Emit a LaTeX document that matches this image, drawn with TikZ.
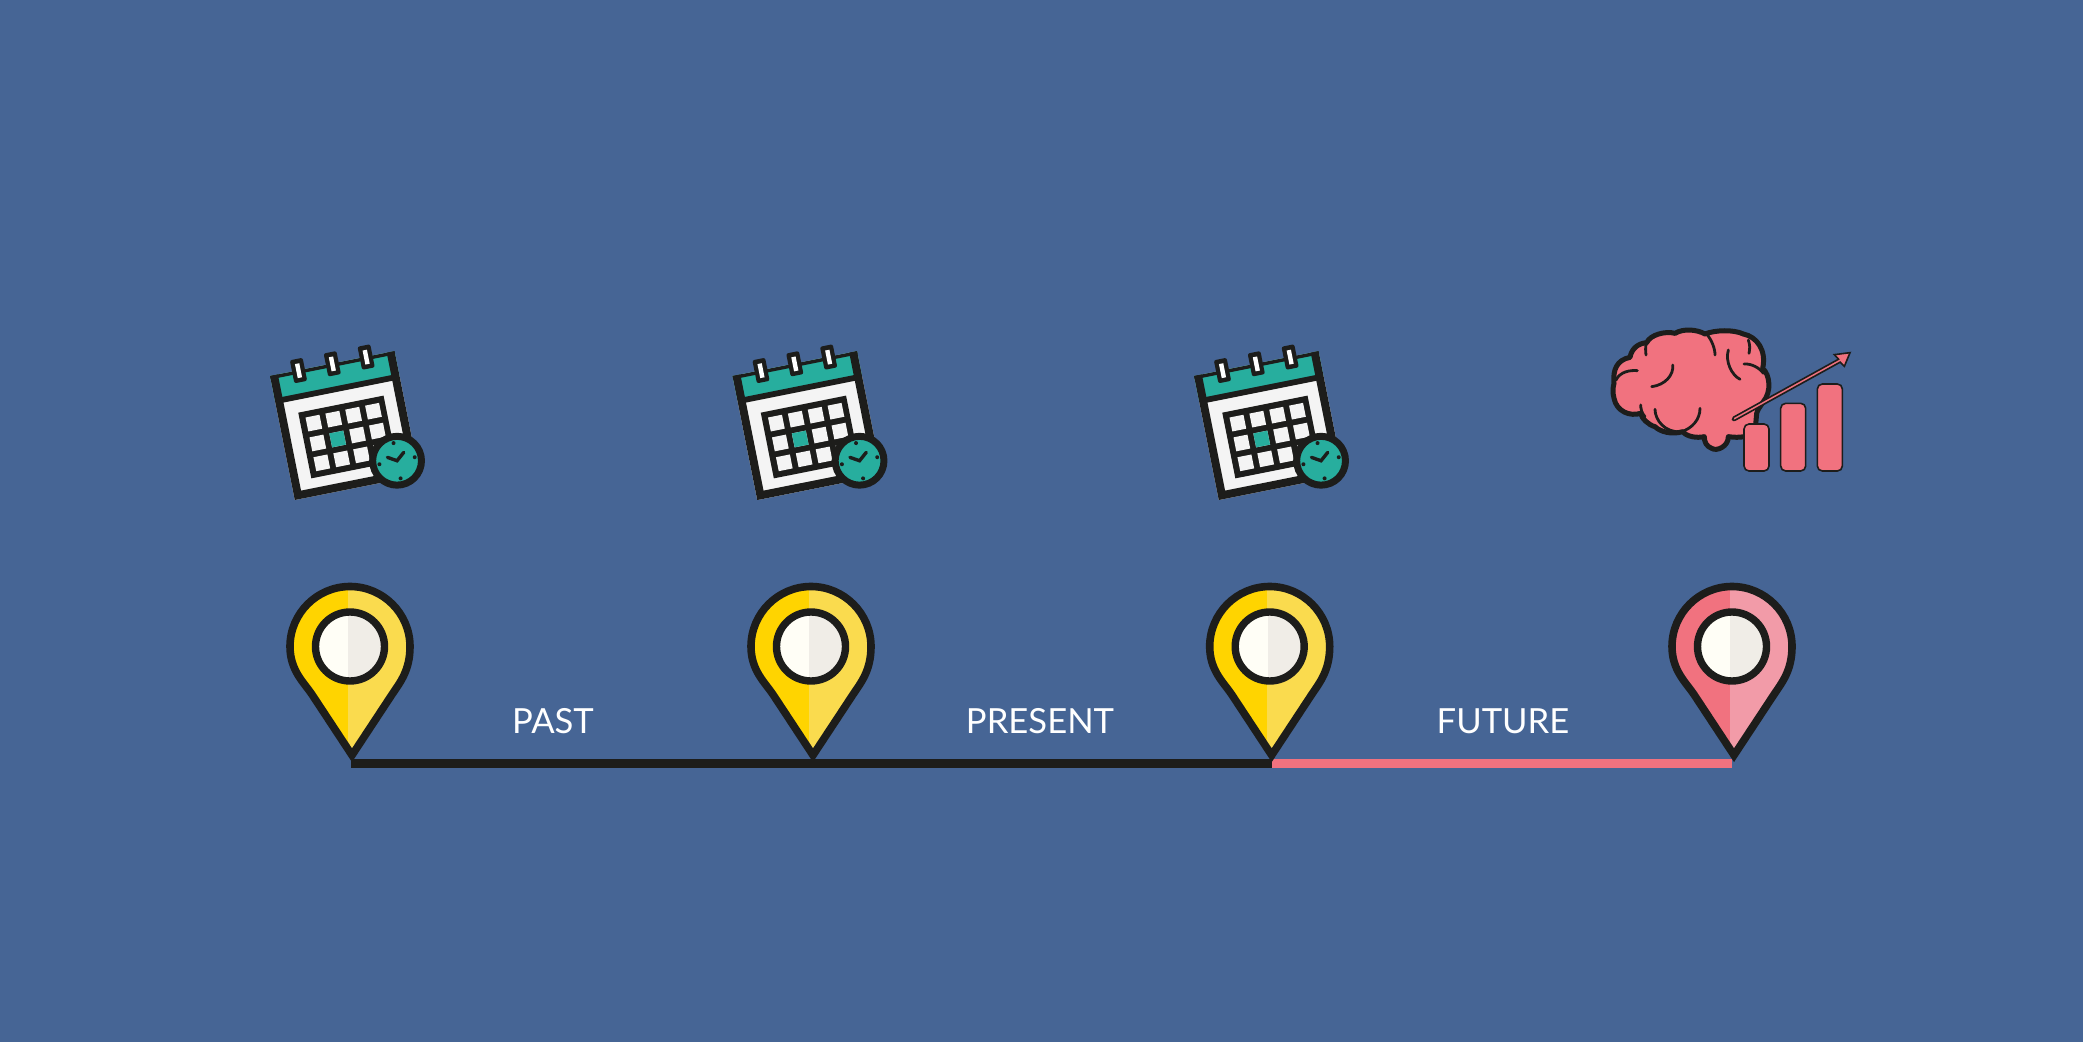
\documentclass[tikz,border=0pt]{standalone}
\usepackage{fontspec}
\setmainfont{Lato}
\definecolor{bgblue}{HTML}{466595}
\definecolor{ink}{HTML}{1D1D1B}
\definecolor{teal}{HTML}{27AE9E}
\definecolor{paper}{HTML}{F4F4F4}
\definecolor{pinkA}{HTML}{F1727F}
\definecolor{pinkB}{HTML}{F29BA8}
\definecolor{goldA}{HTML}{FFD400}
\definecolor{goldB}{HTML}{FADB4E}
\definecolor{pearlA}{HTML}{FFFEF6}
\definecolor{pearlB}{HTML}{F0EDE7}
\newcommand{\pinpath}{(2,108.7) -- (-38,48) .. controls (-46,36) and (-60,24) .. (-60,0)
  .. controls (-60,-33) and (-33,-60) .. (0,-60)
  .. controls (33,-60) and (60,-33) .. (60,0)
  .. controls (60,24) and (50,36) .. (42,48) -- cycle}
\tikzset{x=0.5pt,y=-0.5pt,
  timeline/.style={line width=4.4pt},
  label/.style={text=white,font=\fontsize{17.3}{20}\selectfont,anchor=center,inner sep=0pt}
}
% #1 centre x, #2 left colour, #3 right colour
\newcommand{\drawpin}[3]{%
  \begin{scope}[shift={(#1,646.5)}]
    \begin{scope}
      \clip \pinpath;
      \fill[#2] (-70,-70) rectangle (-2.5,115);
      \fill[#3] (-2.5,-70) rectangle (70,115);
    \end{scope}
    \draw[ink,line width=3.8pt,miter limit=10,line join=miter] \pinpath;
    \begin{scope}
      \clip (0,0) circle[radius=16pt];
      \fill[pearlA] (-35,-35) rectangle (-2,35);
      \fill[pearlB] (-2,-35) rectangle (35,35);
    \end{scope}
    \draw[ink,line width=3.7pt] (0,0) circle[radius=17.25pt];
  \end{scope}}
\newcommand{\drawcal}[2]{%
  \begin{scope}[shift={(#1,#2)},rotate=11.3]
    \fill[paper] (0,0) rectangle (127,126.5);
    \fill[teal] (0,0) rectangle (127,25);
    \draw[ink,line width=1.7pt] (0,1.7) -- (127,1.7);
    \draw[ink,line width=4pt,line join=miter] (4,0) -- (4,122.5) -- (123,122.5) -- (123,0);
    \draw[ink,line width=2.9pt] (4,25.8) -- (123,25.8);
    \foreach \u in {29,63.5,98}{
      \fill[ink,rounded corners=1pt] (\u-6.5,-11.5) rectangle (\u+6.5,12);
      \fill[white] (\u-2.2,-6.8) rectangle (\u+2.2,7.5);
    }
    \fill[ink] (20.5,41.5) rectangle (107.5,108.5);
    \foreach \c in {0,1,2,3}{\foreach \r in {0,1,2}{
      \fill[paper] (26.7+\c*20.25,47.7+\r*20.25) rectangle ++(14.2,14.2);
    }}
    \fill[teal] (26.7+20.25,47.7+20.25) rectangle ++(14.2,14.2);
    \begin{scope}[shift={(108,108)}]
      \fill[teal] (0,0) circle[radius=12.2pt];
      \draw[ink,line width=3.5pt] (0,0) circle[radius=12.2pt];
      \foreach \p in {(0,-18),(18,0),(0,18),(-18,0)}{\fill[ink] \p circle[radius=1pt];}
      \draw[ink,line width=1.7pt,line cap=round,line join=miter] (-8.8,-5.2) -- (0,0) -- (8.2,-6.9);
    \end{scope}
  \end{scope}}
\begin{document}
\begin{tikzpicture}
\useasboundingbox (0,0) rectangle (2083,1042);
\fill[bgblue] (0,0) rectangle (2083,1042);
\drawcal{270}{376}
\drawcal{732.5}{376}
\drawcal{1194}{376}
\coordinate (t1) at (351,763.5);
\coordinate (t2) at (811.5,763.5);
\coordinate (t3) at (1272,763.5);
\coordinate (t4) at (1731.7,763.5);
\draw[ink,timeline] (t1) -- (t2);
\draw[ink,timeline] (t2) -- (t3);
\draw[pinkA,timeline] (t3) -- (t4);
\drawpin{350}{goldA}{goldB}
\drawpin{811}{goldA}{goldB}
\drawpin{1269.7}{goldA}{goldB}
\drawpin{1732}{pinkA}{pinkB}
\node[label] (past) at (553,721.5) {PAST};
\node[label] (present) at (1040,721.5) {PRESENT};
\node[label] (future) at (1503,721.5) {FUTURE};
\begin{scope}[shift={(1600,320)},x=0.16667pt,y=-0.16667pt]
  \draw[ink,fill=pinkA,line width=2.5pt,line join=round]
    (42,190) .. controls (38,150) and (50,120) .. (90,112)
    .. controls (95,85) and (115,70) .. (140,68)
    .. controls (150,45) and (195,32) .. (225,40)
    .. controls (250,25) and (290,28) .. (315,42)
    .. controls (345,30) and (400,28) .. (430,42)
    .. controls (470,50) and (500,90) .. (488,145)
    .. controls (510,165) and (515,215) .. (490,245)
    .. controls (480,260) and (472,270) .. (470,280)
    -- (465,335)
    .. controls (450,350) and (420,355) .. (385,350)
    .. controls (385,380) and (350,395) .. (335,385)
    .. controls (320,380) and (312,365) .. (313,350)
    .. controls (290,355) and (260,350) .. (248,335)
    .. controls (215,345) and (180,335) .. (165,320)
    .. controls (145,315) and (125,295) .. (122,280)
    .. controls (90,290) and (50,275) .. (42,235)
    .. controls (38,220) and (38,205) .. (42,190) -- cycle;
  \begin{scope}[ink,line width=1.4pt,line cap=round]
    \draw (48,180) .. controls (60,155) and (90,150) .. (112,152);
    \draw (140,68) .. controls (135,80) and (137,95) .. (138,105);
    \draw (218,135) .. controls (222,165) and (195,195) .. (155,200);
    \draw (320,42) .. controls (335,60) and (345,85) .. (345,105);
    \draw (445,60) .. controls (450,75) and (450,85) .. (447,100);
    \draw (385,90) .. controls (375,125) and (395,165) .. (420,178);
    \draw (432,132) .. controls (455,130) and (480,145) .. (490,160);
    \draw (122,255) .. controls (122,265) and (125,280) .. (135,290);
    \draw (165,268) .. controls (165,300) and (195,340) .. (245,335);
    \draw (245,335) .. controls (275,325) and (300,300) .. (300,265);
  \end{scope}
  \draw[ink,fill=pinkA,line width=0.8pt,rounded corners=2.5pt] (432,312) rectangle (507,453);
  \draw[ink,fill=pinkA,line width=0.8pt,rounded corners=2.5pt] (542,250) rectangle (617,453);
  \draw[ink,fill=pinkA,line width=0.8pt,rounded corners=2.5pt] (652,192) rectangle (727,453);
  \draw[ink,fill=pinkA,line width=0.8pt,line join=miter]
    (400.6,291.6) -- (715.6,117.6) -- (703,104) -- (750,98) -- (733,139) -- (720.4,126.4)
    -- (405.4,300.4) .. controls (398,304) and (394,295) .. (400.6,291.6) -- cycle;
\end{scope}
\end{tikzpicture}
\end{document}
